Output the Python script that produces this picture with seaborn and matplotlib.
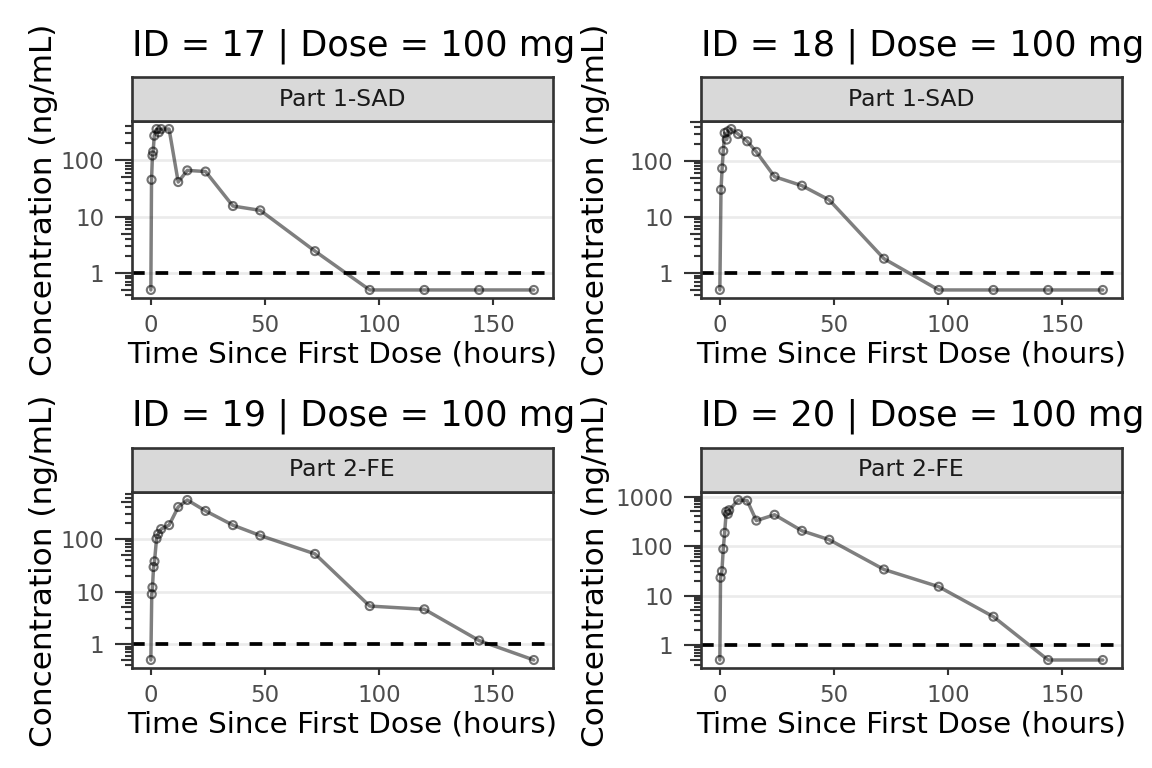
import numpy as np
import pandas as pd
import matplotlib
matplotlib.use("Agg")
import matplotlib.pyplot as plt
import seaborn as sns
from matplotlib.ticker import FixedLocator, FuncFormatter, NullFormatter

# ---------------- data ----------------
ids = [17, 18, 19, 20]
doses = [100, 100, 100, 100]
parts = ["Part 1-SAD", "Part 1-SAD", "Part 2-FE", "Part 2-FE"]

time_17 = [0, 0.3, 0.7, 1, 1.5, 2.5, 3.5, 4.5, 8, 12, 16, 24, 36, 48, 72, 96, 120, 144, 168]
conc_17 = [0.5, 45, 121, 142, 272, 357, 312, 357, 357, 41, 66, 63, 15.4, 12.9, 2.44, 0.5, 0.5, 0.5, 0.5]

time_18 = [0, 0.5, 1, 1.5, 2.1, 3, 3.5, 5, 8, 12, 16, 24, 36, 48, 72, 96, 120, 144, 168]
conc_18 = [0.5, 30.4, 73, 150, 312, 238, 334, 367, 299, 222, 144, 52, 36, 20, 1.8, 0.5, 0.5, 0.5, 0.5]

time_19 = [0, 0.4, 0.7, 1.2, 1.6, 2.5, 3.2, 4.5, 8, 12, 16, 24, 36, 48, 72, 96, 120, 144, 168]
conc_19 = [0.5, 8.9, 12, 29.3, 37.5, 101, 124, 154, 183, 405, 550, 341, 183, 116, 52, 5.3, 4.6, 1.17, 0.5]

time_20 = [0, 0.3, 0.9, 1.5, 2.1, 2.8, 3.5, 4.1, 8, 12, 16, 24, 36, 48, 72, 96, 120, 144, 168]
conc_20 = [0.5, 22.9, 31, 87, 185, 494, 443, 530, 850, 825, 326, 428, 203, 134, 33.6, 15.1, 3.74, 0.5, 0.5]

times = [time_17, time_18, time_19, time_20]
concs = [conc_17, conc_18, conc_19, conc_20]

lloq = 1
x_ticks = [0, 50, 100, 150]
y_major = [1, 10, 100, 1000]

# ---------------- style ----------------
sns.set_theme(style="white")
plt.rcParams["font.family"] = ["DejaVu Sans"]

W, H = 1152, 768
fig = plt.figure(figsize=(6, 4), dpi=192)

def px_axes(l, t, r, b):
    return fig.add_axes([l / W, 1 - b / H, (r - l) / W, (b - t) / H])

rects = [(131.7, 121, 553, 298), (700.7, 121, 1122, 298),
         (131.7, 492, 553, 668), (700.7, 492, 1122, 668)]
ylab_x = [44, 596, 44, 596]
strip_h = 44

dark = "#333333"
minor_vals = [m * 10.0 ** e for e in range(-2, 5) for m in (2, 3, 4, 6, 7, 8, 9)]
mid_vals = [5 * 10.0 ** e for e in range(-2, 5)]

for i in range(4):
    l, t, r, b = rects[i]
    df = pd.DataFrame({"time": times[i], "conc": concs[i]})
    ax = px_axes(l, t, r, b)
    ax.set_yscale("log")
    ax.yaxis.grid(True, which="major", color="#EBEBEB", lw=1.0)
    ax.xaxis.grid(False)
    ax.set_axisbelow(True)

    sns.lineplot(data=df, x="time", y="conc", ax=ax, color="black", alpha=0.5,
                 lw=1.3, estimator=None, sort=False)
    sns.scatterplot(data=df, x="time", y="conc", ax=ax, marker="o", s=9,
                    facecolor="none", edgecolor=(0, 0, 0, 0.55), linewidth=0.8, zorder=3)
    ax.axhline(lloq, color="black", ls=(0, (3.4, 2.9)), lw=1.4, zorder=2)

    ax.set_xticks(x_ticks)
    ax.yaxis.set_major_locator(FixedLocator(y_major))
    ax.yaxis.set_major_formatter(FuncFormatter(lambda v, p: f"{v:g}"))
    ax.yaxis.set_minor_locator(FixedLocator(minor_vals))
    ax.yaxis.set_minor_formatter(NullFormatter())
    ax.set_xlabel("")
    ax.set_ylabel("")
    ax.tick_params(axis="x", which="major", length=2.75, width=0.8, color=dark,
                   pad=3.3, labelsize=8.6, labelcolor="#4D4D4D", bottom=True)
    ax.tick_params(axis="y", which="major", length=6.4, width=0.8, color=dark,
                   pad=3.8, labelsize=8.6, labelcolor="#4D4D4D", left=True)
    ax.tick_params(axis="y", which="minor", length=2.6, width=0.8, color=dark, left=True)
    for sp in ax.spines.values():
        sp.set_color(dark)
        sp.set_linewidth(1.0)

    sec = ax.secondary_yaxis("left")
    sec.yaxis.set_major_locator(FixedLocator(mid_vals))
    sec.yaxis.set_major_formatter(NullFormatter())
    sec.yaxis.set_minor_locator(FixedLocator([]))
    sec.tick_params(axis="y", which="major", length=4.1, width=0.8, color=dark)
    sec.spines["left"].set_visible(False)

    # strip
    axs = px_axes(l, t - strip_h, r, t)
    axs.set_facecolor("#D9D9D9")
    axs.set_xticks([])
    axs.set_yticks([])
    for sp in axs.spines.values():
        sp.set_color(dark)
        sp.set_linewidth(1.0)
    axs.text(0.5, 0.5, parts[i], ha="center", va="center", fontsize=8.8,
             color="#1A1A1A", transform=axs.transAxes)

    # titles and labels
    row_off = 0 if i < 2 else 371
    fig.text(l / W, 1 - (55 + row_off) / H, f"ID = {ids[i]} | Dose = {doses[i]} mg",
             ha="left", va="baseline", fontsize=13.2, color="black")
    fig.text(((l + r) / 2) / W, 1 - (362 + row_off) / H, "Time Since First Dose (hours)",
             ha="center", va="baseline", fontsize=11, color="black")
    fig.text(ylab_x[i] / W, 1 - (200 + row_off) / H, "Concentration (ng/mL)",
             ha="center", va="center", rotation=90, fontsize=11.7, color="black")

fig.savefig("out.png", dpi=192, facecolor="white")
